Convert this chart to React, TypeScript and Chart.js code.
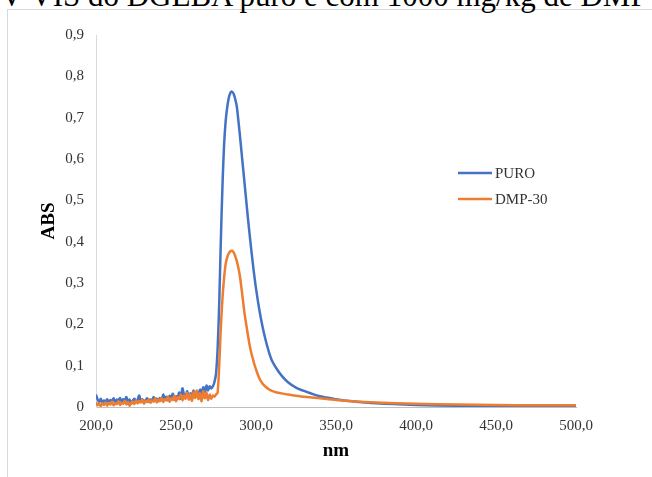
import React, { useEffect, useRef } from "react";
import { Chart, registerables } from "chart.js";

Chart.register(...registerables);

const titleText = "UV-VIS do DGEBA puro e com 1000 mg/kg de DMP-30";
const xAxisTitle = "nm";
const yAxisTitle = "ABS";
const seriesNames = ["PURO", "DMP-30"];
const seriesColors = ["#4472C4", "#ED7D31"];

const wavelengths = [
  200, 201, 202, 203, 204, 205, 206, 207, 208, 209,
  210, 211, 212, 213, 214, 215, 216, 217, 218, 219,
  220, 221, 222, 223, 224, 225, 226, 227, 228, 229,
  230, 231, 232, 233, 234, 235, 236, 237, 238, 239,
  240, 241, 242, 243, 244, 245, 246, 247, 248, 249,
  250, 251, 252, 253, 254, 255, 256, 257, 258, 259,
  260, 261, 262, 263, 264, 265, 266, 267, 268, 269,
  270, 271, 272, 273, 274, 275, 276, 277, 278, 279,
  280, 281, 282, 283, 284, 285, 286, 287, 288, 289,
  290, 291, 292, 293, 294, 295, 296, 297, 298, 299,
  300, 302, 304, 306, 308, 310, 313, 316, 320, 325,
  330, 340, 350, 360, 375, 400, 425, 450, 475, 500,
];

const absPuro = [
  0.030, 0.018, 0.012, 0.020, 0.010, 0.016, 0.013, 0.019, 0.011, 0.017,
  0.014, 0.021, 0.012, 0.018, 0.015, 0.022, 0.013, 0.019, 0.016, 0.024,
  0.012, 0.018, 0.008, 0.015, 0.020, 0.011, 0.017, 0.028, 0.014, 0.019,
  0.012, 0.017, 0.021, 0.013, 0.018, 0.015, 0.024, 0.016, 0.020, 0.014,
  0.022, 0.017, 0.030, 0.019, 0.025, 0.016, 0.027, 0.021, 0.032, 0.018,
  0.026, 0.022, 0.035, 0.020, 0.045, 0.030, 0.024, 0.038, 0.022, 0.033,
  0.027, 0.040, 0.025, 0.036, 0.030, 0.042, 0.033, 0.048, 0.036, 0.052,
  0.040, 0.050, 0.045, 0.050, 0.060, 0.080, 0.140, 0.250, 0.400, 0.530,
  0.630, 0.690, 0.725, 0.748, 0.760, 0.763, 0.758, 0.745, 0.727, 0.692,
  0.655, 0.615, 0.575, 0.535, 0.495, 0.455, 0.418, 0.382, 0.348, 0.316,
  0.287, 0.237, 0.196, 0.162, 0.134, 0.112, 0.092, 0.076, 0.060, 0.047,
  0.039, 0.026, 0.019, 0.014, 0.009, 0.005, 0.003, 0.002, 0.0015, 0.001,
];

const absDmp = [
  0.012, 0.004, 0.008, 0.002, 0.009, 0.005, 0.011, 0.003, 0.010, 0.006,
  0.013, 0.004, 0.009, 0.007, 0.014, 0.005, 0.010, 0.008, 0.015, 0.006,
  0.012, 0.003, 0.010, 0.013, 0.007, 0.016, 0.009, 0.014, 0.011, 0.018,
  0.008, 0.015, 0.012, 0.019, 0.010, 0.016, 0.013, 0.021, 0.011, 0.018,
  0.014, 0.022, 0.012, 0.019, 0.016, 0.025, 0.013, 0.021, 0.017, 0.027,
  0.014, 0.024, 0.019, 0.030, 0.016, 0.028, 0.020, 0.034, 0.018, 0.031,
  0.015, 0.036, 0.022, 0.040, 0.019, 0.033, 0.014, 0.038, 0.021, 0.035,
  0.017, 0.030, 0.020, 0.028, 0.025, 0.030, 0.035, 0.100, 0.190, 0.260,
  0.310, 0.345, 0.362, 0.372, 0.377, 0.378, 0.374, 0.365, 0.353, 0.336,
  0.315, 0.285, 0.253, 0.222, 0.197, 0.173, 0.150, 0.132, 0.117, 0.103,
  0.091, 0.070, 0.057, 0.049, 0.043, 0.039, 0.035, 0.033, 0.030, 0.027,
  0.025, 0.021, 0.017, 0.014, 0.011, 0.008, 0.006, 0.005, 0.004, 0.004,
];

const xMin = 200;
const xMax = 500;
const xStep = 50;
const yMin = 0;
const yMax = 0.9;
const yStep = 0.1;

const SERIF = '"Liberation Serif", "Times New Roman", serif';
const TICK_COLOR = "#333333";

const legendPlugin = {
  id: "insideLegend",
  afterDraw(chart: any) {
    const { ctx, chartArea } = chart;
    const x0 = chartArea.left + 362;
    const y0 = chartArea.top + 138;
    const rowH = 26;
    ctx.save();
    ctx.font = `15px ${SERIF}`;
    ctx.textBaseline = "middle";
    ctx.textAlign = "left";
    chart.data.datasets.forEach((ds: any, i: number) => {
      const y = y0 + i * rowH;
      ctx.strokeStyle = ds.borderColor;
      ctx.lineWidth = 2.5;
      ctx.beginPath();
      ctx.moveTo(x0, y);
      ctx.lineTo(x0 + 34, y);
      ctx.stroke();
      ctx.fillStyle = TICK_COLOR;
      ctx.fillText(ds.label, x0 + 37, y + 1);
    });
    ctx.restore();
  },
};

export default function App() {
  const ref = useRef<HTMLCanvasElement | null>(null);

  useEffect(() => {
    if (!ref.current) return;
    const fmt = (v: number) => v.toFixed(1).replace(".", ",");
    const chart = new Chart(ref.current, {
      type: "line",
      data: {
        datasets: [
          {
            label: seriesNames[0],
            data: wavelengths.map((x, i) => ({ x, y: absPuro[i] })),
            borderColor: seriesColors[0],
            backgroundColor: seriesColors[0],
            borderWidth: 2.5,
            pointRadius: 0,
            tension: 0.3,
            order: 2,
          },
          {
            label: seriesNames[1],
            data: wavelengths.map((x, i) => ({ x, y: absDmp[i] })),
            borderColor: seriesColors[1],
            backgroundColor: seriesColors[1],
            borderWidth: 2.5,
            pointRadius: 0,
            tension: 0.3,
            order: 1,
          },
        ],
      },
      options: {
        animation: false,
        responsive: false,
        maintainAspectRatio: false,
        layout: { padding: { top: 25, right: 76, left: 0, bottom: 0 } },
        plugins: {
          legend: { display: false },
          tooltip: { enabled: false },
          title: { display: false },
        },
        scales: {
          x: {
            type: "linear",
            min: xMin,
            max: xMax,
            grid: { display: false },
            border: { display: true, color: "#bfbfbf", width: 1 },
            ticks: {
              stepSize: xStep,
              padding: 2,
              color: TICK_COLOR,
              font: { family: SERIF, size: 15 },
              callback: (v: any) => fmt(Number(v)),
              maxRotation: 0,
            },
            title: {
              display: true,
              text: xAxisTitle,
              color: "#000",
              font: { family: SERIF, size: 19, weight: "bold" },
              padding: { top: 0, bottom: 15 },
            },
            afterFit: (s: any) => {
              s.height = 70;
            },
          },
          y: {
            type: "linear",
            min: yMin,
            max: yMax,
            grid: { display: false },
            border: { display: true, color: "#d9d9d9", width: 1 },
            ticks: {
              stepSize: yStep,
              padding: 4,
              color: TICK_COLOR,
              font: { family: SERIF, size: 15 },
              callback: (v: any) => (Number(v) === 0 ? "0" : fmt(Number(v))),
            },
            title: {
              display: true,
              text: yAxisTitle,
              color: "#000",
              font: { family: SERIF, size: 19, weight: "bold" },
              padding: { top: 30, bottom: 0 },
            },
            afterFit: (s: any) => {
              s.width = 88;
            },
          },
        },
      },
      plugins: [legendPlugin],
    });
    return () => chart.destroy();
  }, []);

  return (
    <div
      style={{
        position: "fixed",
        left: 0,
        top: 0,
        width: 652,
        height: 477,
        overflow: "hidden",
        background: "#fff",
      }}
    >
      <div
        style={{
          position: "absolute",
          left: 7,
          top: 9,
          width: 700,
          height: 520,
          border: "1px solid #d9d9d9",
          boxSizing: "border-box",
        }}
      />
      <div
        style={{
          position: "absolute",
          left: -22,
          top: -20,
          fontFamily: SERIF,
          fontSize: 31,
          lineHeight: "31px",
          whiteSpace: "nowrap",
          color: "#000",
        }}
      >
        {titleText}
      </div>
      <div style={{ position: "absolute", left: 8, top: 10, width: 644, height: 467 }}>
        <canvas ref={ref} width={644} height={467} style={{ width: 644, height: 467 }} />
      </div>
    </div>
  );
}
